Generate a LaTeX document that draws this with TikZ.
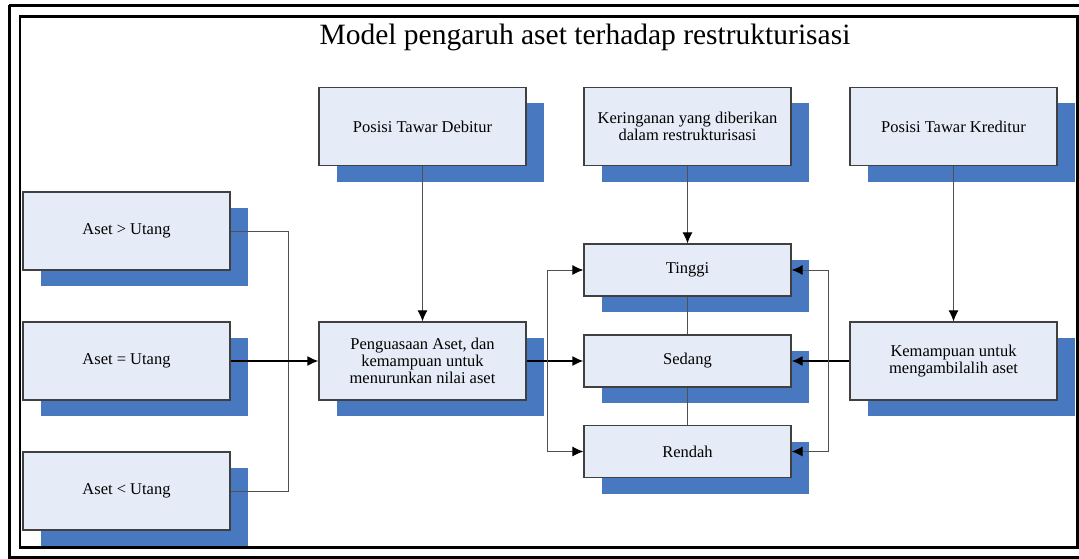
\documentclass[tikz,border=0pt]{standalone}
\usepackage{fontspec}
\setmainfont{Liberation Serif}
\usetikzlibrary{arrows.meta,shadows}
\definecolor{boxfill}{HTML}{E6ECF7}
\definecolor{boxline}{HTML}{404040}
\definecolor{shadowblue}{HTML}{4878C0}
\definecolor{wire}{HTML}{505050}
\begin{document}
\begin{tikzpicture}[x=1pt,y=1pt,>={Latex[length=11pt,width=10pt,color=black,fill=black]}]
  \tikzstyle{block}=[draw=boxline,line width=1.2pt,fill=boxfill,align=center,
    minimum width=207pt,inner sep=2pt,
    font=\fontsize{16.5}{17}\selectfont,
    drop shadow={shadow xshift=18pt,shadow yshift=-16pt,fill=shadowblue,opacity=1}]
  \tikzstyle{tall}=[block,minimum height=78pt]
  \tikzstyle{flat}=[block,minimum height=52pt]
  \tikzstyle{wire}=[draw=wire,line width=1pt]
  \tikzstyle{main}=[draw=black,line width=1.6pt]
  \useasboundingbox (0,0) rectangle (1079,-559);
  % frames
  \draw [line width=3pt] (9,-5.5) -- (1085,-5.5);
  \draw [line width=3pt] (9,-5.5) -- (9,-557) -- (1085,-557);
  \draw [line width=2.5pt] (20,-16.5) rectangle (1077.5,-547.5);
  \node (title) at (585,-37) {\fontsize{29.5}{31}\selectfont Model pengaruh aset terhadap restrukturisasi};
  % boxes
  \node [tall] (gt)   at (126.5,-231)   {Aset {>} Utang};
  \node [tall] (eq)   at (126.5,-361)   {Aset {=} Utang};
  \node [tall] (lt)   at (126.5,-491)   {Aset {<} Utang};
  \node [tall] (deb)  at (422.5,-126.5) {Posisi Tawar Debitur};
  \node [tall] (pa)   at (422.5,-361)   {Penguasaan Aset, dan\\kemampuan untuk\\menurunkan nilai aset};
  \node [tall] (ker)  at (687.5,-126.5) {Keringanan yang diberikan\\dalam restrukturisasi};
  \node [tall] (kred) at (953.5,-126.5) {Posisi Tawar Kreditur};
  \node [tall] (kem)  at (953.5,-361)   {Kemampuan untuk\\mengambilalih aset};
  \node [flat] (ting) at (687.5,-270)   {Tinggi};
  \node [flat] (sed)  at (687.5,-361)   {Sedang};
  \node [flat] (ren)  at (687.5,-451.5) {Rendah};
  \coordinate (jl) at (288,-361);
  \coordinate (jm) at (547,-361);
  \coordinate (jr) at (828,-361);
  % connectors
  \draw [wire] (gt.east) -| (jl);
  \draw [wire] (lt.east) -| (jl);
  \draw [main,->] (eq.east) -- (pa.west);
  \draw [wire,->] (deb) -- (pa);
  \draw [main,->] (pa.east) -- (sed.west);
  \draw [wire,->] (jm) |- (ting.west);
  \draw [wire,->] (jm) |- (ren.west);
  \draw [wire,->] (ker) -- (ting);
  \draw [wire] (ting) -- (sed);
  \draw [wire] (sed) -- (ren);
  \draw [wire,->] (kred) -- (kem);
  \draw [main,->] (kem.west) -- (sed.east);
  \draw [wire,->] (jr) |- (ting.east);
  \draw [wire,->] (jr) |- (ren.east);
\end{tikzpicture}
\end{document}
